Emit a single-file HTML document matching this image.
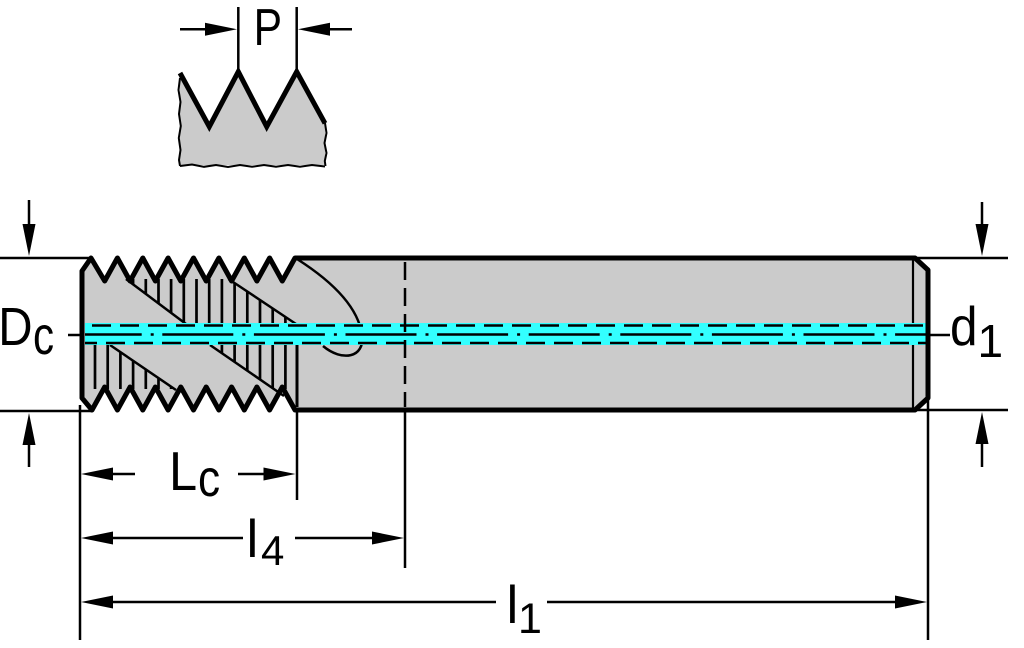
<!DOCTYPE html>
<html>
<head>
<meta charset="utf-8">
<style>
  html, body { margin: 0; padding: 0; background: #ffffff; }
  body { width: 1024px; height: 648px; overflow: hidden; }
  svg { display: block; }
  text { font-family: "Liberation Sans", "DejaVu Sans", sans-serif; fill: #000; }
</style>
</head>
<body>
<svg width="1024" height="648" viewBox="0 0 1024 648" xmlns="http://www.w3.org/2000/svg">
  <defs>
    <clipPath id="hatchClip">
      <polygon points="126,279 228.5,279 296,324 185.7,324"/>
      <polygon points="82,345 110,345 174.7,389 82,389"/>
      <polygon points="210,345 297,345 297,389 274,389"/>
    </clipPath>
  </defs>

  <!-- ===== Pitch detail ===== -->
  <polygon points="180,73 209.3,126.7 238.3,71.7 266.7,126.7 296.7,71.7 325,123.3 325,165 180,165" fill="#cbcbcb"/>
  <polyline points="180,78 178.5,90 180.5,102 179,114 180.8,126 178.8,138 180.5,150 179,160 180,166" fill="none" stroke="#000" stroke-width="2"/>
  <polyline points="180,166 192,164.5 204,166.8 216,165 228,167 240,165 252,166.8 264,165 276,166.7 288,165 300,166.8 312,165 325,166.5" fill="none" stroke="#000" stroke-width="2"/>
  <polyline points="325,123 326.5,133 324.5,143 326.5,153 324.8,161 325.5,166" fill="none" stroke="#000" stroke-width="2"/>
  <polyline points="180,73 209.3,126.7 238.3,71.7 266.7,126.7 296.7,71.7 325,123.3" fill="none" stroke="#000" stroke-width="5" stroke-linejoin="miter"/>
  <line x1="238.3" y1="7" x2="238.3" y2="72" stroke="#000" stroke-width="2.5"/>
  <line x1="296.7" y1="7" x2="296.7" y2="72" stroke="#000" stroke-width="2.5"/>
  <line x1="180" y1="29.3" x2="210" y2="29.3" stroke="#000" stroke-width="2.5"/>
  <polygon points="237,29.3 205,22.8 205,35.8" fill="#000"/>
  <line x1="325" y1="29.3" x2="352" y2="29.3" stroke="#000" stroke-width="2.5"/>
  <polygon points="298,29.3 330,22.8 330,35.8" fill="#000"/>
  <text transform="translate(253.6,45) scale(0.82,1)" font-size="52">P</text>

  <!-- ===== Tool body ===== -->
  <path d="M82,271 L91,258 L104.7,281 L117.4,258 L130.1,281 L142.8,258 L155.4,281 L168.1,258 L180.8,281 L193.5,258 L206.2,281 L218.9,258 L231.6,281 L244.3,258 L256.9,281 L269.6,258 L282.3,281 L295,258 L915,258 L928,270 L928,398 L915,410 L295,410 L282.3,387 L269.6,410 L256.9,387 L244.3,410 L231.6,387 L218.9,410 L206.2,387 L193.5,410 L180.8,387 L168.1,410 L155.4,387 L142.8,410 L130.1,387 L117.4,410 L104.7,387 L92,410 L82,398 Z" fill="#cbcbcb" stroke="none"/>

  <!-- hatch lines of thread flanks -->
  <path clip-path="url(#hatchClip)" fill="none" stroke="#000" stroke-width="2.7"
        d="M95,279V389 M107.7,279V389 M120.4,279V389 M133.1,279V389 M145.8,279V389 M158.5,279V389 M171.1,279V389 M183.8,279V389 M196.5,279V389 M209.2,279V389 M221.9,279V389 M234.6,279V389 M247.3,279V389 M260,279V389 M272.7,279V389 M285.4,279V389"/>

  <!-- flute helix lines -->
  <line x1="126" y1="279" x2="186" y2="324" stroke="#000" stroke-width="2.5"/>
  <line x1="228.5" y1="279" x2="296" y2="324" stroke="#000" stroke-width="2.5"/>
  <line x1="110" y1="345" x2="176" y2="390" stroke="#000" stroke-width="2.5"/>
  <line x1="210" y1="345" x2="284" y2="396" stroke="#000" stroke-width="2.5"/>
  <line x1="297" y1="345" x2="297" y2="407" stroke="#000" stroke-width="3"/>

  <!-- flute end curve -->
  <path d="M297,259 C330,280 358,306 362,335 C365,358 342,362 323,346" fill="none" stroke="#000" stroke-width="2.5"/>

  <!-- back chamfer line -->
  <line x1="913" y1="259" x2="913" y2="409" stroke="#000" stroke-width="2.2"/>

  <!-- coolant band -->
  <rect x="85" y="323" width="842" height="22" fill="#33ffff"/>
  <line x1="85" y1="325.5" x2="927" y2="325.5" stroke="#000" stroke-width="2.5" stroke-dasharray="19 9" stroke-dashoffset="21"/>
  <line x1="85" y1="343" x2="927" y2="343" stroke="#000" stroke-width="2.5" stroke-dasharray="19 9" stroke-dashoffset="7"/>
  <line x1="85" y1="334.5" x2="927" y2="334.5" stroke="#000" stroke-width="2.5" stroke-dasharray="71 9 3 8.6" stroke-dashoffset="14.3"/>

  <!-- vertical dashed line at l4 -->
  <line x1="405" y1="262" x2="405" y2="407" stroke="#000" stroke-width="2.5" stroke-dasharray="18 8"/>

  <!-- body outline -->
  <path d="M82,271 L91,258 L104.7,281 L117.4,258 L130.1,281 L142.8,258 L155.4,281 L168.1,258 L180.8,281 L193.5,258 L206.2,281 L218.9,258 L231.6,281 L244.3,258 L256.9,281 L269.6,258 L282.3,281 L295,258 L915,258 L928,270 L928,398 L915,410 L295,410 L282.3,387 L269.6,410 L256.9,387 L244.3,410 L231.6,387 L218.9,410 L206.2,387 L193.5,410 L180.8,387 L168.1,410 L155.4,387 L142.8,410 L130.1,387 L117.4,410 L104.7,387 L92,410 L82,398 Z" fill="none" stroke="#000" stroke-width="5" stroke-linejoin="round"/>

  <!-- ===== Dimensions: diameters ===== -->
  <line x1="0" y1="258" x2="92" y2="258" stroke="#000" stroke-width="2.5"/>
  <line x1="0" y1="411" x2="92" y2="411" stroke="#000" stroke-width="2.5"/>
  <line x1="29" y1="200" x2="29" y2="228" stroke="#000" stroke-width="2.5"/>
  <polygon points="29,256 22.5,224 35.5,224" fill="#000"/>
  <line x1="29" y1="440" x2="29" y2="467" stroke="#000" stroke-width="2.5"/>
  <polygon points="29,413 22.5,445 35.5,445" fill="#000"/>
  <line x1="68" y1="335" x2="82" y2="335" stroke="#000" stroke-width="2.5"/>
  <text transform="translate(-1.8,345) scale(0.88,1)" font-size="54">D</text>
  <text transform="translate(33,354) scale(0.78,1)" font-size="54">c</text>

  <line x1="915" y1="258" x2="1008" y2="258" stroke="#000" stroke-width="2.5"/>
  <line x1="893" y1="410" x2="1008" y2="410" stroke="#000" stroke-width="2.5"/>
  <line x1="982" y1="202" x2="982" y2="228" stroke="#000" stroke-width="2.5"/>
  <polygon points="982,256 975.5,224 988.5,224" fill="#000"/>
  <line x1="982" y1="440" x2="982" y2="467" stroke="#000" stroke-width="2.5"/>
  <polygon points="982,412 975.5,444 988.5,444" fill="#000"/>
  <line x1="928" y1="335" x2="950" y2="335" stroke="#000" stroke-width="2.5"/>
  <text transform="translate(950,345) scale(0.9,1)" font-size="55">d</text>
  <text x="977.5" y="357" font-size="46">1</text>

  <!-- ===== Dimensions: lengths ===== -->
  <line x1="80" y1="405" x2="80" y2="640" stroke="#000" stroke-width="2.5"/>
  <line x1="297" y1="410" x2="297" y2="500" stroke="#000" stroke-width="2.5"/>
  <line x1="405" y1="410" x2="405" y2="568" stroke="#000" stroke-width="2.5"/>
  <line x1="928" y1="400" x2="928" y2="640" stroke="#000" stroke-width="2.5"/>

  <!-- Lc -->
  <line x1="100" y1="474" x2="135" y2="474" stroke="#000" stroke-width="2.5"/>
  <polygon points="81,474 113,467.5 113,480.5" fill="#000"/>
  <line x1="238" y1="474" x2="275" y2="474" stroke="#000" stroke-width="2.5"/>
  <polygon points="295.5,474 263.5,467.5 263.5,480.5" fill="#000"/>
  <text transform="translate(169,490) scale(0.92,1)" font-size="55">L</text>
  <text transform="translate(198,496) scale(0.85,1)" font-size="52">c</text>

  <!-- l4 -->
  <line x1="100" y1="538" x2="243" y2="538" stroke="#000" stroke-width="2.5"/>
  <polygon points="81,538 113,531.5 113,544.5" fill="#000"/>
  <line x1="295" y1="538" x2="385" y2="538" stroke="#000" stroke-width="2.5"/>
  <polygon points="404,538 372,531.5 372,544.5" fill="#000"/>
  <text x="246.5" y="557" font-size="53">l</text>
  <text x="261" y="565" font-size="42">4</text>

  <!-- l1 -->
  <line x1="100" y1="602" x2="496" y2="602" stroke="#000" stroke-width="2.5"/>
  <polygon points="81,602 113,595.5 113,608.5" fill="#000"/>
  <line x1="547" y1="602" x2="908" y2="602" stroke="#000" stroke-width="2.5"/>
  <polygon points="927,602 895,595.5 895,608.5" fill="#000"/>
  <text x="506.5" y="623" font-size="53">l</text>
  <text x="518" y="633" font-size="43">1</text>
</svg>
</body>
</html>
